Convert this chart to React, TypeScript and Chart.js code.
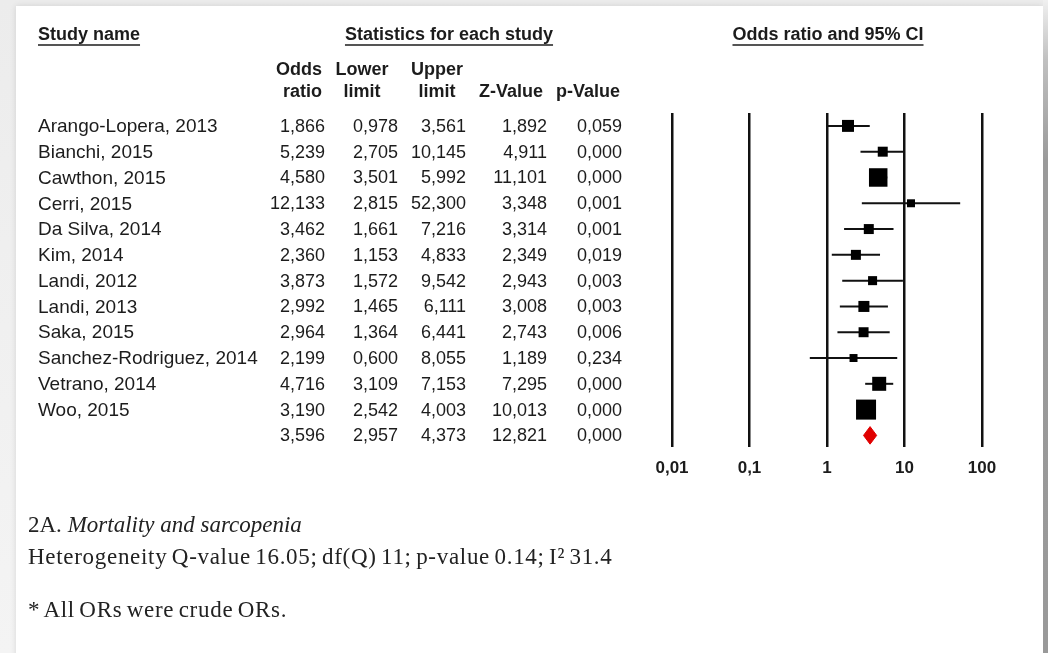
import React, { useEffect, useRef } from "react";
import { Chart, registerables } from "chart.js";

Chart.register(...registerables);

// ---------- data ----------
const studies = [
  "Arango-Lopera, 2013",
  "Bianchi, 2015",
  "Cawthon, 2015",
  "Cerri, 2015",
  "Da Silva, 2014",
  "Kim, 2014",
  "Landi, 2012",
  "Landi, 2013",
  "Saka, 2015",
  "Sanchez-Rodriguez, 2014",
  "Vetrano, 2014",
  "Woo, 2015",
];
const oddsRatio = [1.866, 5.239, 4.58, 12.133, 3.462, 2.36, 3.873, 2.992, 2.964, 2.199, 4.716, 3.19];
const lowerLimit = [0.978, 2.705, 3.501, 2.815, 1.661, 1.153, 1.572, 1.465, 1.364, 0.6, 3.109, 2.542];
const upperLimit = [3.561, 10.145, 5.992, 52.3, 7.216, 4.833, 9.542, 6.111, 6.441, 8.055, 7.153, 4.003];
const zValue = [1.892, 4.911, 11.101, 3.348, 3.314, 2.349, 2.943, 3.008, 2.743, 1.189, 7.295, 10.013];
const pValue = [0.059, 0.0, 0.0, 0.001, 0.001, 0.019, 0.003, 0.003, 0.006, 0.234, 0.0, 0.0];
// relative study weights (%), shown as marker area
const weights = [7.9, 5.5, 18.9, 3.5, 5.5, 5.5, 4.5, 6.7, 5.5, 3.5, 10.8, 22.1];

const summaryOR = 3.596;
const summaryLower = 2.957;
const summaryUpper = 4.373;
const summaryZ = 12.821;
const summaryP = 0.0;

const xTicks = [0.01, 0.1, 1, 10, 100];
const xTickLabels = ["0,01", "0,1", "1", "10", "100"];

// ---------- helpers ----------
const fmt = (v: number) => v.toFixed(3).replace(".", ",");
const SANS = '"Liberation Sans", Arial, sans-serif';
const TEXT = "#1c1c1c";

const tablePlugin = {
  id: "forestTable",
  afterDraw(chart: any) {
    const ctx: CanvasRenderingContext2D = chart.ctx;
    const ys = chart.scales.y;
    ctx.save();
    ctx.fillStyle = TEXT;
    ctx.textBaseline = "middle";

    // section headers with underline
    ctx.font = `bold 18px ${SANS}`;
    const headers: [string, number, CanvasTextAlign][] = [
      ["Study name", 38, "left"],
      ["Statistics for each study", 449, "center"],
      ["Odds ratio and 95% CI", 828, "center"],
    ];
    headers.forEach(([t, x, a]) => {
      ctx.textAlign = a;
      ctx.fillText(t, x, 35);
      const w = ctx.measureText(t).width;
      const x0 = a === "left" ? x : x - w / 2;
      ctx.strokeStyle = "#555";
      ctx.lineWidth = 2;
      ctx.beginPath();
      ctx.moveTo(x0, 45);
      ctx.lineTo(x0 + w, 45);
      ctx.stroke();
    });

    // column headers
    const colHead: [string, string, number, CanvasTextAlign][] = [
      ["Odds", "ratio", 322, "right"],
      ["Lower", "limit", 362, "center"],
      ["Upper", "limit", 437, "center"],
      ["", "Z-Value", 511, "center"],
      ["", "p-Value", 588, "center"],
    ];
    colHead.forEach(([a, b, x, al]) => {
      ctx.textAlign = al;
      if (a) ctx.fillText(a, x, 70);
      ctx.fillText(b, x, 92);
    });

    // rows
    const colX = [325, 398, 466, 547, 622];
    const rows = studies.map((s, i) => [s, oddsRatio[i], lowerLimit[i], upperLimit[i], zValue[i], pValue[i]] as [string, number, number, number, number, number]);
    rows.push(["", summaryOR, summaryLower, summaryUpper, summaryZ, summaryP]);
    rows.forEach((r, i) => {
      const y = ys.getPixelForValue(i) + 1;
      ctx.font = `19px ${SANS}`;
      ctx.textAlign = "left";
      ctx.fillText(r[0], 38, y);
      ctx.font = `18px ${SANS}`;
      ctx.textAlign = "right";
      for (let c = 0; c < 5; c++) ctx.fillText(fmt(r[c + 1] as number), colX[c], y);
    });
    ctx.restore();
  },
};

export default function App() {
  const ref = useRef<HTMLCanvasElement | null>(null);

  useEffect(() => {
    if (!ref.current) return;
    const idx = studies.map((_, i) => i);
    const whiskers = idx.map((i) => ({
      type: "line" as const,
      data: [
        { x: lowerLimit[i], y: i },
        { x: upperLimit[i], y: i },
      ],
      borderColor: "#111",
      borderWidth: 2,
      pointRadius: 0,
      showLine: true,
      fill: false,
      order: 2,
    }));
    const sumRow = studies.length;
    const chart = new Chart(ref.current, {
      type: "scatter",
      data: {
        datasets: [
          {
            type: "scatter",
            data: idx.map((i) => ({ x: oddsRatio[i], y: i })),
            pointStyle: "rect",
            pointRadius: weights.map((w) => (4.257 * Math.sqrt(w)) / Math.SQRT2),
            backgroundColor: "#000",
            borderColor: "#000",
            borderWidth: 0,
            order: 0,
          } as any,
          {
            type: "line",
            data: [
              { x: summaryLower, y: sumRow },
              { x: summaryOR, y: sumRow - 0.34 },
              { x: summaryUpper, y: sumRow },
              { x: summaryOR, y: sumRow + 0.34 },
              { x: summaryLower, y: sumRow },
            ],
            borderColor: "#e00000",
            backgroundColor: "#e00000",
            borderWidth: 1,
            pointRadius: 0,
            showLine: true,
            fill: "shape",
            order: 0,
          } as any,
          ...(whiskers as any[]),
        ],
      },
      options: {
        animation: false,
        responsive: false,
        devicePixelRatio: 1,
        events: [],
        layout: { padding: { left: 672, right: 66, top: 113, bottom: 166 } },
        plugins: { legend: { display: false }, tooltip: { enabled: false } },
        scales: {
          x: {
            type: "logarithmic",
            min: xTicks[0],
            max: xTicks[xTicks.length - 1],
            afterBuildTicks: (scale: any) => {
              scale.ticks = xTicks.map((v) => ({ value: v }));
            },
            afterFit: (scale: any) => {
              scale.height = 40;
            },
            ticks: {
              autoSkip: false,
              maxRotation: 0,
              padding: 11,
              color: TEXT,
              font: { family: SANS, size: 17, weight: "bold" },
              callback: (v: any) => {
                const k = xTicks.indexOf(Number(v));
                return k >= 0 ? xTickLabels[k] : "";
              },
            },
            grid: { color: "#111", lineWidth: 2.5, drawTicks: false },
            border: { display: false },
          },
          y: {
            type: "linear",
            display: false,
            reverse: true,
            min: -0.5,
            max: 12.45,
          },
        },
      } as any,
      plugins: [tablePlugin],
    });
    return () => chart.destroy();
  }, []);

  const serif = '"Liberation Serif", "DejaVu Serif", serif';
  const note = {
    position: "absolute" as const,
    left: 28,
    fontFamily: serif,
    fontSize: 23,
    color: "#222",
    whiteSpace: "nowrap" as const,
    lineHeight: "28px",
  };
  return (
    <div
      style={{
        position: "absolute",
        left: 0,
        top: 0,
        width: 1048,
        height: 653,
        overflow: "hidden",
        background: "linear-gradient(to bottom, #ececec, #f4f4f4)",
      }}
    >
      <div style={{ position: "absolute", left: 16, top: 6, width: 1027, height: 660, background: "#fff", boxShadow: "0 0 6px rgba(0,0,0,0.12)" }} />
      <div
        style={{
          position: "absolute",
          left: 1043,
          top: 0,
          width: 5,
          height: 653,
          background: "linear-gradient(to bottom, #f0f0f0 0px, #c0c0c0 60px, #9a9a9a 160px, #999 653px)",
        }}
      />
      <canvas ref={ref} width={1048} height={653} style={{ position: "absolute", left: 0, top: 0 }} />
      <div style={{ ...note, top: 511 }}>
        2A. <span style={{ fontStyle: "italic" }}>Mortality and sarcopenia</span>
      </div>
      <div style={{ ...note, top: 543, letterSpacing: "0.7px", wordSpacing: "-2px" }}>
        Heterogeneity Q-value 16.05; df(Q) 11; p-value 0.14; I² 31.4
      </div>
      <div style={{ ...note, top: 596, letterSpacing: "0.7px", wordSpacing: "-2px" }}>
        * All ORs were crude ORs.
      </div>
    </div>
  );
}
